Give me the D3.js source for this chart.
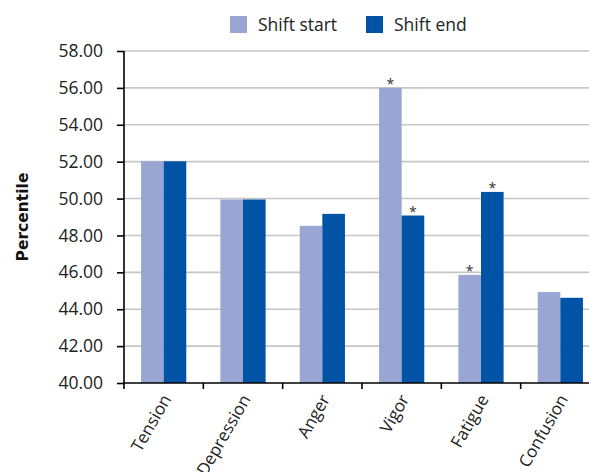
<!DOCTYPE html>
<html><head><meta charset="utf-8">
<script src="https://cdn.jsdelivr.net/npm/d3@7"></script>
<style>body{margin:0;background:#fff;}svg{display:block;}</style>
</head><body>
<svg id="c" width="589" height="472"></svg>
<script>
const categories = ["Tension","Depression","Anger","Vigor","Fatigue","Confusion"];
const seriesNames = ["Shift start","Shift end"];
const shiftStart = [52.02, 49.95, 48.52, 56.00, 45.86, 44.93];
const shiftEnd   = [52.02, 49.95, 49.17, 49.08, 50.36, 44.62];
const startSig = [false,false,false,true,true,false];
const endSig   = [false,false,false,true,true,false];
const yTicks = [40,42,44,46,48,50,52,54,56,58];
const colors = ["#99a5d3","#0053a5"];

const svg = d3.select("#c");
const font = "'Open Sans', 'Noto Sans', sans-serif";
const m = {left:124, top:51, right:-11, bottom:89};
const W = 589 - m.left - m.right, H = 472 - m.top - m.bottom;
const g = svg.append("g").attr("transform",`translate(${m.left},${m.top})`);

const x = d3.scaleBand().domain(categories).range([0,W]).paddingInner(0.43).paddingOuter(0.215);
const x0 = d3.scaleBand().domain(categories).range([0,W]);
const xs = d3.scaleBand().domain(seriesNames).range([0,x.bandwidth()]);
const y = d3.scaleLinear().domain([40,58]).range([H,0]);

// gridlines
g.append("g").selectAll("line").data(yTicks.filter(t=>t>40)).join("line")
  .attr("x1",0).attr("x2",W).attr("y1",d=>y(d)).attr("y2",d=>y(d))
  .attr("stroke","#c6c6c6").attr("stroke-width",1.6);

const data = categories.map((c,i)=>({c, vals:[shiftStart[i],shiftEnd[i]], sig:[startSig[i],endSig[i]]}));
const grp = g.append("g").selectAll("g").data(data).join("g")
  .attr("transform",d=>`translate(${x(d.c)},0)`);
grp.selectAll("rect").data(d=>d.vals.map((v,j)=>({v,j,s:d.sig[j]}))).join("rect")
  .attr("x",d=>xs(seriesNames[d.j])).attr("width",xs.bandwidth())
  .attr("y",d=>y(d.v)).attr("height",d=>y(40)-y(d.v))
  .attr("fill",d=>colors[d.j]);
grp.selectAll("text.sig").data(d=>d.vals.map((v,j)=>({v,j,s:d.sig[j]})).filter(d=>d.s)).join("text")
  .attr("class","sig")
  .attr("x",d=>xs(seriesNames[d.j])+xs.bandwidth()/2).attr("y",d=>y(d.v)+1)
  .attr("text-anchor","middle").attr("font-family",font).attr("font-size",14)
  .attr("fill","#333").text("*");

// y axis
const ya = g.append("g").call(d3.axisLeft(y).tickValues(yTicks).tickFormat(d3.format(".2f")).tickSize(7).tickPadding(14));
ya.select(".domain").attr("stroke","#000").attr("stroke-width",1.6).attr("d",`M0,0V${H}`);
ya.selectAll(".tick line").attr("stroke","#000").attr("stroke-width",1.6);
ya.selectAll(".tick text").attr("font-family",font).attr("font-size",17.5).attr("fill","#222");

// x axis
const xa = g.append("g").attr("transform",`translate(0,${H})`)
  .call(d3.axisBottom(x0).tickSize(0).tickFormat(""));
xa.select(".domain").attr("stroke","#000").attr("stroke-width",1.6).attr("d",`M0,0H${W}`);
xa.selectAll(".tick").remove();
xa.selectAll("line.t").data(categories).join("line").attr("class","t")
  .attr("x1",d=>x0(d)).attr("x2",d=>x0(d)).attr("y1",0).attr("y2",6)
  .attr("stroke","#000").attr("stroke-width",1.6);
xa.selectAll("text.lab").data(categories).join("text").attr("class","lab")
  .attr("transform",d=>`translate(${x0(d)+x0.bandwidth()/2+3},${13}) rotate(-60)`)
  .attr("text-anchor","end").attr("dy","0.35em")
  .attr("font-family",font).attr("font-size",17).attr("fill","#222").text(d=>d);

// y title
svg.append("text").attr("transform","translate(28,217) rotate(-90)")
  .attr("text-anchor","middle").attr("font-family","'DejaVu Sans', sans-serif").attr("font-weight","bold")
  .attr("font-size",15.5).attr("fill","#111").text("Percentile");

// legend
const lg = svg.append("g");
const lx = [230,366];
seriesNames.forEach((s,i)=>{
  lg.append("rect").attr("x",lx[i]).attr("y",16).attr("width",17).attr("height",17).attr("fill",colors[i]);
  lg.append("text").attr("x",lx[i]+28).attr("y",25).attr("dy","0.35em")
    .attr("font-family",font).attr("font-size",17.5).attr("fill","#222").text(s);
});
</script>
</body></html>
